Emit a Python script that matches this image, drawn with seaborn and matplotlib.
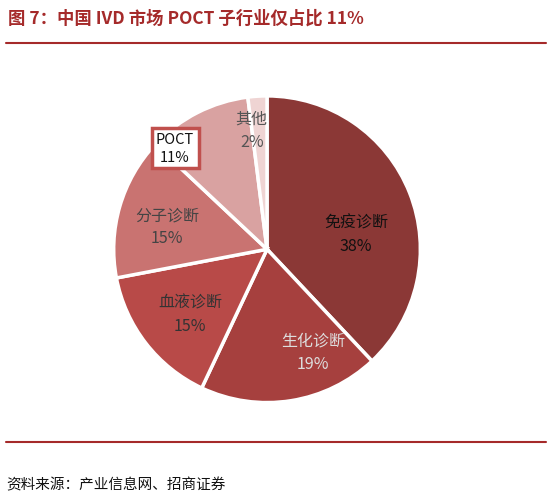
import matplotlib
matplotlib.use("Agg")
import matplotlib.pyplot as plt
import seaborn as sns

sns.set_style("white")
plt.rcParams['font.family'] = ['Noto Sans CJK SC', 'DejaVu Sans']

# data
labels = ['免疫诊断', '生化诊断', '血液诊断', '分子诊断', 'POCT', '其他']
shares = [38, 19, 15, 15, 11, 2]
colors = ['#8B3836', '#A6403E', '#B84A48', '#C97371', '#D9A2A1', '#EFD4D3']
text_colors = ['#111111', '#DDDDDD', '#333333', '#444444', '#111111', '#555555']

fig = plt.figure(figsize=(5.54, 5.02), dpi=100)
ax = fig.add_axes([0.202, 0.193, 0.56, 0.617])
wedges, _ = ax.pie(shares, colors=colors, startangle=90, counterclock=False,
                   wedgeprops=dict(edgecolor='white', linewidth=2.5))
ax.set_xlim(-1.01, 1.01)
ax.set_ylim(-1.01, 1.01)
ax.set_aspect('equal')

label_pos = [(0.58, 0.1), (0.3, -0.67), (-0.5, -0.42), (-0.65, 0.15), (-0.6, 0.66), (-0.1, 0.78)]
for i, (x, y) in enumerate(label_pos):
    txt = f"{labels[i]}\n{shares[i]}%"
    if labels[i] == 'POCT':
        ax.text(x, y, txt, ha='center', va='center', fontsize=10.5, color=text_colors[i],
                linespacing=1.3,
                bbox=dict(boxstyle='square,pad=0.3', facecolor='white', edgecolor='#C0504D', linewidth=2.5))
    else:
        ax.text(x, y, txt, ha='center', va='center', fontsize=11.5, color=text_colors[i], linespacing=1.5)

fig.text(0.015, 0.963, '图 7：中国 IVD 市场 POCT 子行业仅占比 11%', ha='left', va='center',
         fontsize=12.5, fontweight='bold', color='#A52A2A')
fig.add_artist(plt.Line2D([0.01, 0.985], [0.913, 0.913], color='#A52A2A', linewidth=1.5))
fig.add_artist(plt.Line2D([0.01, 0.985], [0.117, 0.117], color='#A52A2A', linewidth=1.5))
fig.text(0.012, 0.033, '资料来源：产业信息网、招商证券', ha='left', va='center',
         fontsize=10.5, color='#111111')

fig.savefig('out.png', dpi=100)
